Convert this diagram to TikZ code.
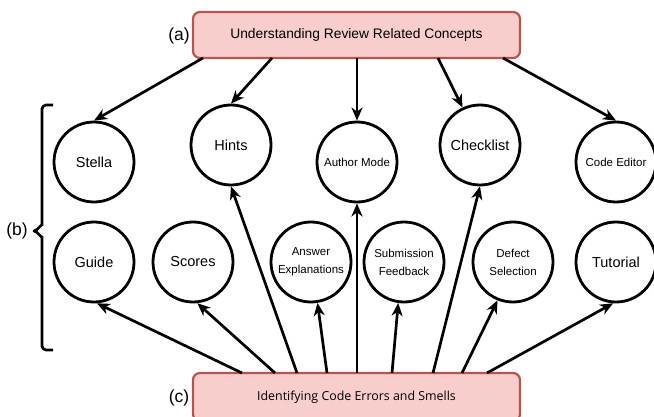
\documentclass[tikz,border=0pt]{standalone}
\usepackage{fontspec}
\setmainfont{Liberation Sans}
\newfontfamily\opensans{Open Sans}
\usetikzlibrary{arrows.meta}
\definecolor{boxfill}{HTML}{F8CECC}
\definecolor{boxline}{HTML}{B85450}

\begin{document}
\begin{tikzpicture}[x=1pt,y=-1pt,
  concept/.style={rounded corners=7pt, draw=boxline, fill=boxfill, line width=2.2pt,
    minimum width=327pt, inner sep=0pt},
  feature/.style={circle, draw, line width=2.8pt, minimum size=80pt, inner sep=0pt, align=center},
  big/.style={font=\fontsize{14.5}{17}\selectfont},
  small/.style={font=\fontsize{11.5}{18}\selectfont},
  link/.style={line width=2.7pt, -{Stealth[length=13pt,width=11pt,inset=4pt]}},
  tag/.style={font=\fontsize{17.5}{20}\selectfont},
  brace/.style={line width=2.7pt, line join=round}
]
\useasboundingbox (0,0) rectangle (654,417);
\clip (0,0) rectangle (654,417);

% category boxes
\node[concept, minimum height=46pt, font=\fontsize{13.8}{16}\selectfont] (top) at (356.5,35)
  {Understanding Review Related Concepts};
\node[concept, minimum height=48pt, font=\opensans\fontsize{12.4}{15}\selectfont] (bottom) at (356.5,397)
  {Identifying Code Errors and Smells};

% category labels
\node[tag] (la) at (179,36) {(a)};
\node[tag] (lc) at (179,398) {(c)};
\node[tag] (lb) at (17,231) {(b)};

% feature circles, first row
\node[feature, big]   (stella)    at (94,162)  {Stella};
\node[feature, big]   (hints)     at (231,145) {Hints};
\node[feature, small] (author)    at (357,162) {Author Mode};
\node[feature, big]   (checklist) at (480,145) {Checklist};
\node[feature, small] (editor)    at (616,162) {Code Editor};

% feature circles, second row
\node[feature, big]   (guide)      at (94,262)  {Guide};
\node[feature, big]   (scores)     at (193,262) {Scores};
\node[feature, small] (answer)     at (311,262) {Answer\\Explanations};
\node[feature, small] (submission) at (404,262) {Submission\\Feedback};
\node[feature, small] (defect)     at (513,262) {Defect\\Selection};
\node[feature, big]   (tutorial)   at (616,262) {Tutorial};

% brace grouping the features
\draw[brace, rounded corners=4pt] (53,105) -- (42,105) -- (42,226);
\draw[brace] (42,226) to[out=90,in=0] (34,231) to[out=0,in=-90] (42,236);
\draw[brace, rounded corners=4pt] (42,236) -- (42,350) -- (53,350);

% arrow origins on the top box
\coordinate (t1) at (203,58);
\coordinate (t2) at (272,58);
\coordinate (t3) at (357,58);
\coordinate (t4) at (438,58);
\coordinate (t5) at (503,58);

% arrow origins on the bottom box
\coordinate (b1) at (242,373);
\coordinate (b2) at (275,373);
\coordinate (b3) at (297,373);
\coordinate (b4) at (327,373);
\coordinate (b5) at (357,373);
\coordinate (b6) at (392,373);
\coordinate (b7) at (433,373);
\coordinate (b8) at (462,373);
\coordinate (b9) at (487,373);

% concept links
\draw[link] (t1) -- (stella.north);
\draw[link] (t2) -- (hints.north);
\draw[link] (t3) -- (author.north);
\draw[link] (t4) -- (checklist.115);
\draw[link] (t5) -- (editor.north);

% error-identification links
\draw[link] (b1) -- (guide.-86);
\draw[link] (b2) -- (scores.-84);
\draw[link] (b3) -- (hints.south);
\draw[link] (b4) -- (answer.-81);
\draw[link] (b5) -- (author.south);
\draw[link] (b6) -- (submission.-98);
\draw[link] (b7) -- (checklist.south);
\draw[link] (b8) -- (defect.-112);
\draw[link] (b9) -- (tutorial.-94);
\end{tikzpicture}
\end{document}
